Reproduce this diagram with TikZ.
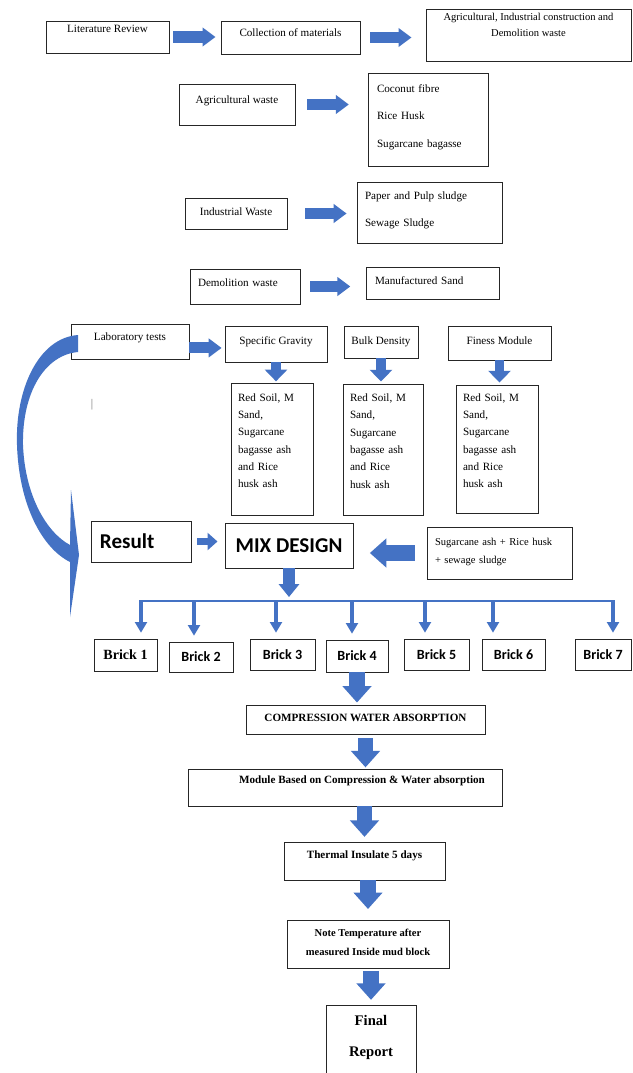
\documentclass[tikz,border=0pt]{standalone}
\usepackage{fontspec}
\setmainfont{Liberation Serif}
\newfontfamily\calibri{Carlito}
\usetikzlibrary{arrows.meta}
\definecolor{flowblue}{HTML}{4472C4}
\definecolor{boxline}{HTML}{262626}
\tikzset{
  box/.style={draw=boxline, line width=0.8pt, inner sep=0pt, align=center, font=\fontsize{9.5}{11.4}\selectfont},
  lbox/.style={box, align=left},
  bbox/.style={box, font=\bfseries\fontsize{9.5}{11.4}\selectfont},
  brickbox/.style={box, font=\calibri\bfseries\fontsize{12}{14}\selectfont, text depth=0pt},
  rarrow/.style={flowblue, line width=9.4pt, -{Triangle[width=15.5pt, length=11pt]}},
  tarrow/.style={flowblue, line width=7.7pt, -{Triangle[width=18.7pt, length=10pt]}},
  sarrow/.style={flowblue, line width=6pt, -{Triangle[width=14.5pt, length=8.5pt]}},
  darrow/.style={flowblue, line width=9.4pt, -{Triangle[width=17pt, length=11pt]}},
  warrow/.style={flowblue, line width=13.6pt, -{Triangle[width=24pt, length=14pt]}},
  busarrow/.style={flowblue, line width=3.8pt, -{Triangle[width=10pt, length=9pt]}},
  busline/.style={flowblue, line width=1.3pt}
}

\begin{document}
\begin{tikzpicture}[x=0.03cm, y=-0.03cm]
  \useasboundingbox (0,0) rectangle (632,1073);
  \fill[white] (0,0) rectangle (632,1073);

  \node[box, minimum width=3.69cm, minimum height=0.96cm, text depth=14pt] (litrev) at (107.5,37) {Literature Review};
  \node[box, minimum width=4.17cm, minimum height=0.99cm, text depth=7.7pt] (collect) at (290.5,37.5) {Collection of materials};
  \node[box, minimum width=6.15cm, minimum height=1.56cm, text depth=17pt, font=\fontsize{9}{13.6}\selectfont] (wastes) at (528.5,35) {Agricultural, Industrial construction and\\Demolition waste};

  \node[box, minimum width=3.48cm, minimum height=1.23cm, text depth=7.7pt] (agriw) at (237,104.5) {Agricultural waste};
  \node[lbox, text width=3.06cm, inner xsep=7.65pt, minimum height=2.79cm, text depth=53.6pt, font=\fontsize{9.5}{23.8}\selectfont] (agrilist) at (428,119.5) {Coconut fibre\\Rice Husk\\Sugarcane bagasse};
  \node[box, minimum width=3.06cm, minimum height=0.93cm, text depth=2.6pt] (indw) at (236,213.5) {Industrial Waste};
  \node[lbox, text width=3.87cm, inner xsep=6.8pt, minimum height=1.83cm, text depth=28pt, font=\fontsize{9.5}{23}\selectfont] (indlist) at (429.5,212.5) {Paper and Pulp sludge\\Sewage Sludge};
  \node[lbox, text width=2.82cm, inner xsep=6.8pt, minimum height=1.05cm, text depth=6pt] (demw) at (245,286.5) {Demolition waste};
  \node[lbox, text width=3.45cm, inner xsep=7.65pt, minimum height=0.96cm, text depth=3.4pt] (demlist) at (432.5,283) {Manufactured Sand};

  \node[box, minimum width=3.54cm, minimum height=1.05cm, text depth=7.7pt] (labtest) at (130,341.5) {Laboratory tests};
  \node[box, minimum width=3.06cm, minimum height=1.08cm, text depth=5.1pt] (spgrav) at (276,344) {Specific Gravity};
  \node[box, minimum width=2.22cm, minimum height=0.96cm, text depth=1.7pt] (bulkden) at (381,342) {Bulk Density};
  \node[box, minimum width=3.09cm, minimum height=1.02cm, text depth=3.4pt] (finmod) at (499.5,343) {Finess Module};
  \node[lbox, text width=2.04cm, inner xsep=5.95pt, minimum height=3.96cm, text depth=88.4pt, font=\fontsize{9.5}{14.8}\selectfont] (mat1) at (272,449) {Red Soil, M\\Sand,\\Sugarcane\\bagasse ash\\and Rice\\husk ash};
  \node[lbox, text width=1.98cm, inner xsep=5.95pt, minimum height=3.93cm, text depth=88.4pt, font=\fontsize{9.5}{14.8}\selectfont] (mat2) at (383,449.5) {Red Soil, M\\Sand,\\Sugarcane\\bagasse ash\\and Rice\\husk ash};
  \node[lbox, text width=2.04cm, inner xsep=5.95pt, minimum height=3.84cm, text depth=88.4pt, font=\fontsize{9.5}{14.8}\selectfont] (mat3) at (497,449) {Red Soil, M\\Sand,\\Sugarcane\\bagasse ash\\and Rice\\husk ash};
  \node[text=black!55, font=\fontsize{10}{12}\selectfont] (caret) at (92,405) {|};

  \node[lbox, text width=2.49cm, inner xsep=7.65pt, minimum height=1.23cm, text depth=0pt, font=\calibri\bfseries\fontsize{18}{21}\selectfont] (result) at (141.5,541.5) {Result};
  \node[box, minimum width=3.84cm, minimum height=1.35cm, text depth=0pt, font=\calibri\bfseries\fontsize{18}{21}\selectfont] (mixdes) at (289,545.5) {MIX DESIGN};
  \node[lbox, text width=3.87cm, inner xsep=6.8pt, minimum height=1.56cm, text depth=18.7pt, font=\fontsize{9}{15.3}\selectfont] (additive) at (499.5,553) {Sugarcane ash + Rice husk\\+ sewage sludge};

  \node[brickbox, font=\bfseries\fontsize{12}{14}\selectfont, minimum width=1.89cm, minimum height=0.96cm] (brick1) at (125.5,655) {Brick 1};
  \node[brickbox, minimum width=1.92cm, minimum height=0.9cm] (brick2) at (201,657) {Brick 2};
  \node[brickbox, minimum width=1.95cm, minimum height=0.93cm] (brick3) at (282.5,654.5) {Brick 3};
  \node[brickbox, minimum width=1.86cm, minimum height=0.96cm] (brick4) at (357,656) {Brick 4};
  \node[brickbox, minimum width=1.95cm, minimum height=0.93cm] (brick5) at (436.5,654.5) {Brick 5};
  \node[brickbox, minimum width=1.89cm, minimum height=0.93cm] (brick6) at (513.5,654.5) {Brick 6};
  \node[brickbox, minimum width=1.68cm, minimum height=0.93cm] (brick7) at (603,654.5) {Brick 7};

  \node[bbox, minimum width=7.17cm, minimum height=0.87cm, text depth=2.6pt] (compwa) at (365.5,719.5) {COMPRESSION WATER ABSORPTION};
  \node[bbox, minimum width=9.42cm, minimum height=1.11cm, text depth=12.8pt] (module) at (345,787.5) {\hspace*{29pt}Module Based on Compression \& Water absorption};
  \node[bbox, minimum width=4.83cm, minimum height=1.14cm, text depth=10.2pt] (thermal) at (364.5,861) {Thermal Insulate 5 days};
  \node[bbox, minimum width=4.86cm, minimum height=1.44cm, text depth=2.6pt, font=\bfseries\fontsize{9}{16}\selectfont] (notetemp) at (368,944) {Note Temperature after\\measured Inside mud block};
  \node[bbox, minimum width=2.7cm, minimum height=2.1cm, text depth=6.8pt, font=\bfseries\fontsize{12.5}{27}\selectfont] (final) at (371,1040) {Final\\Report};

  \draw[rarrow, shorten <=3.4pt, shorten >=4.3pt] (litrev.east) -- (litrev.east -| collect.west);
  \draw[rarrow, shorten <=8.5pt, shorten >=12pt] (collect.east) -- (collect.east -| wastes.west);
  \draw[rarrow, shorten <=10pt, shorten >=16pt] (agriw.east) -- (agriw.east -| agrilist.west);
  \draw[rarrow, shorten <=15pt, shorten >=8.5pt] (indw.east) -- (indw.east -| indlist.west);
  \draw[rarrow, shorten <=8.5pt, shorten >=13pt] (demw.east) -- (demw.east -| demlist.west);
  \coordinate (labout) at ([yshift=-5.5pt]labtest.east);
  \draw[rarrow, shorten >=2.5pt] (labout) -- (labout -| spgrav.west);
  \draw[tarrow, shorten >=1pt] (spgrav.south) -- (spgrav.south |- mat1.north);
  \draw[tarrow, shorten >=1.7pt] (bulkden.south) -- (bulkden.south |- mat2.north);
  \draw[tarrow, shorten >=1.7pt] (finmod.south) -- (finmod.south |- mat3.north);

  \draw[sarrow, shorten <=4pt, shorten >=6pt] (result.east) -- (result.east -| mixdes.west);
  \draw[warrow, shorten <=10pt, shorten >=14pt] (additive.west) -- (additive.west -| mixdes.east);
  \coordinate (busleft) at (139,601);
  \coordinate (busright) at (615,601);
  \draw[busline] (busleft) -- (busright);
  \draw[darrow, shorten >=3.4pt] (mixdes.south) -- (mixdes.south |- busleft);
  \foreach \bx/\bn in {141/1,194/2,276/3,352/4,425/5,493/6,613/7}{
    \coordinate (drop\bn) at (\bx,601);
    \draw[busarrow, shorten >=5pt] (drop\bn) -- (drop\bn |- brick\bn.north);
  }

  \draw[warrow, shorten >=1.7pt] (brick4.south) -- (brick4.south |- compwa.north);
  \draw[warrow, shorten <=3.4pt, shorten >=1pt] (compwa.south) -- (compwa.south |- module.north);
  \draw[warrow, shorten >=4pt] (thermal.north |- module.south) -- (thermal.north);
  \draw[warrow, shorten >=9pt] (notetemp.north |- thermal.south) -- (notetemp.north);
  \draw[warrow, shorten <=2pt, shorten >=4pt] (final.north |- notetemp.south) -- (final.north);

  \fill[flowblue] (78,335) .. controls (38,338) and (15,390) .. (17,445)
    .. controls (19,505) and (42,548) .. (70,562) -- (70,617) -- (79,555) -- (71,490) -- (70,545)
    .. controls (46,532) and (25,495) .. (23,445) .. controls (22,392) and (45,355) .. (78,352) -- cycle;
\end{tikzpicture}
\end{document}
